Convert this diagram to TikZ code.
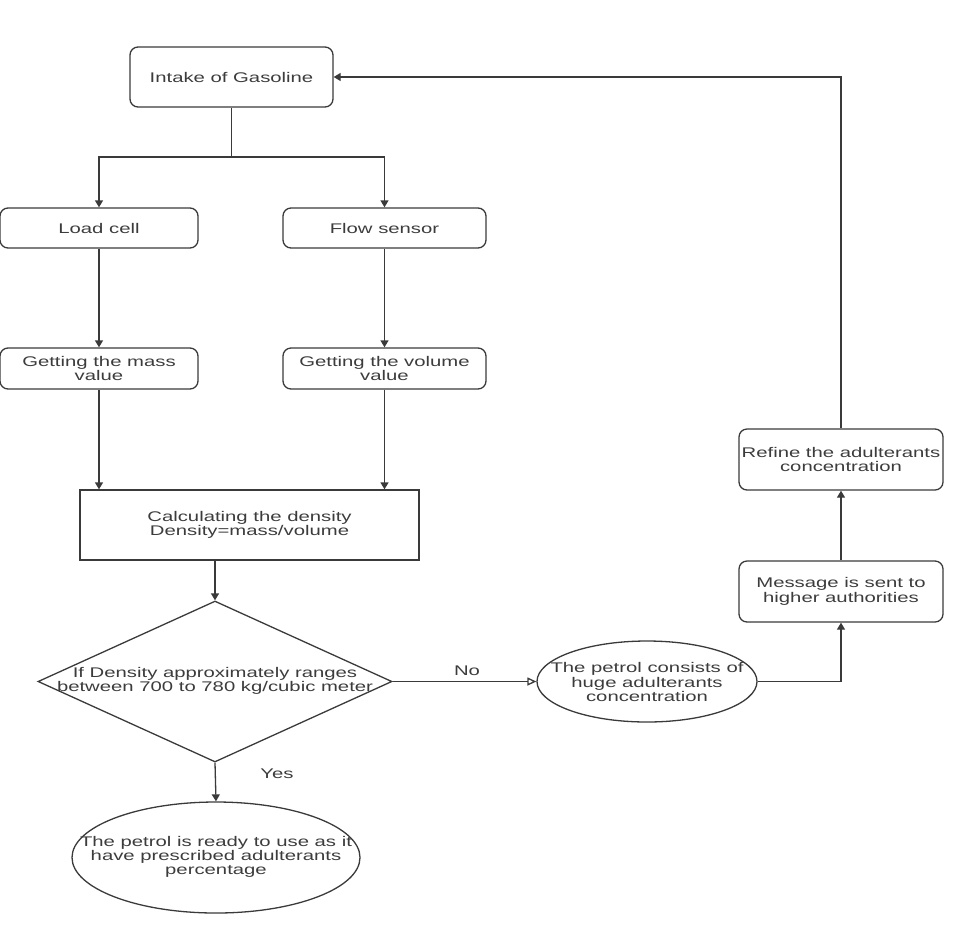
\documentclass[tikz,border=0pt]{standalone}
\usepackage{fontspec}
\setmainfont{Liberation Sans}[FakeStretch=1.45]
\usetikzlibrary{shapes.geometric,arrows.meta}
\definecolor{ln}{HTML}{3A3A3A}
\definecolor{tx}{HTML}{3C3C3C}
\begin{document}
\begin{tikzpicture}[x=1pt,y=-1pt,
  every node/.style={font=\fontsize{14}{14.3}\selectfont, text=tx, align=center, inner sep=0pt},
  rbox/.style={draw=ln, line width=1.3pt, rounded corners=8pt},
  sbox/.style={draw=ln, line width=1.3pt},
  oval/.style={draw=ln, line width=1.3pt, ellipse},
  conn/.style={draw=ln, line width=1.3pt},
  arr/.style={conn, -{Triangle[width=8pt,length=7pt]}},
  oarr/.style={conn, -{Triangle[open,width=8pt,length=9pt]}}]
\useasboundingbox (0,0) rectangle (957,927);

\node[rbox, minimum width=203, minimum height=60] (intake) at (231.5,77) {Intake of Gasoline};
\node[rbox, minimum width=198, minimum height=40] (load) at (99,228) {Load cell};
\node[rbox, minimum width=203, minimum height=40] (flow) at (384.5,228) {Flow sensor};
\node[rbox, minimum width=198, minimum height=41] (mass) at (99,368.5) {Getting the mass\\value};
\node[rbox, minimum width=203, minimum height=41] (vol) at (384.5,368.5) {Getting the volume\\value};
\node[sbox, minimum width=339, minimum height=70] (calc) at (249.5,525) {Calculating the density\\Density=mass/volume};
\node[draw=ln, line width=1.3pt, diamond, minimum width=354, minimum height=161] (dec) at (215,681.5) {};
\node (dectext) at (215,681) {If Density approximately ranges\\between 700 to 780 kg/cubic meter};
\node[oval, minimum width=288, minimum height=111] (ok) at (216,857.5) {};
\node (oktext) at (216,857) {The petrol is ready to use as it\\have prescribed adulterants\\percentage};
\node[oval, minimum width=220, minimum height=81] (bad) at (647,681.5) {};
\node (badtext) at (647,682) {The petrol consists of\\huge adulterants\\concentration};
\node[rbox, minimum width=204, minimum height=61] (msg) at (841,591.5) {Message is sent to\\higher authorities};
\node[rbox, minimum width=204, minimum height=61] (refine) at (841,459.5) {Refine the adulterants\\concentration};

\node (yes) at (277,774) {Yes};
\node (no) at (467,671) {No};

\coordinate (split) at (231.5,157);
\draw[conn] (intake.south) -- (split);
\draw[arr] (split) -| (load.north);
\draw[arr] (split) -| (flow.north);
\draw[arr] (load.south) -- (mass.north);
\draw[arr] (flow.south) -- (vol.north);
\draw[arr] (mass.south) -- (mass.south |- calc.north);
\draw[arr] (vol.south) -- (vol.south |- calc.north);
\draw[arr] (calc.south -| dec.north) -- (dec.north);
\draw[arr] (dec.south) -- (ok.north);
\draw[oarr] (dec.east) -- (bad.west);
\draw[arr] (bad.east) -| (msg.south);
\draw[arr] (msg.north) -- (refine.south);
\draw[arr] (refine.north) |- (intake.east);
\end{tikzpicture}
\end{document}
